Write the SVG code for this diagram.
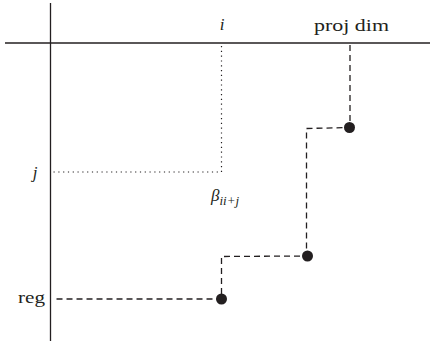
<svg xmlns="http://www.w3.org/2000/svg" width="430" height="345" viewBox="0 0 430 345">
<style>
.ax{stroke:#231f20;stroke-width:1.3;fill:none}
.dot{stroke:#231f20;stroke-width:1.2;fill:none;stroke-dasharray:1.2 3.6}
.dash{stroke:#231f20;stroke-width:1.3;fill:none;stroke-dasharray:6 4}
.pt{fill:#231f20}
text{font-family:"Liberation Serif","Times New Roman",serif;fill:#231f20;font-size:17px}
.it{font-style:italic}
</style>
<g id="axes">
<line class="ax" x1="50.5" y1="3" x2="50.5" y2="341"/>
<line class="ax" x1="5" y1="43" x2="430" y2="43"/>
</g>
<g id="connectors">
<polyline class="dot" points="221.5,46 221.5,172 53,172"/>
<polyline class="dash" points="350,45 350,127.5 306.5,128.5 306.5,256 221.5,256.5 221.5,299 53,299"/>
</g>
<g id="p1"><circle class="pt" cx="349.5" cy="127.5" r="5.5"/></g>
<g id="p2"><circle class="pt" cx="307.5" cy="256" r="5.5"/></g>
<g id="p3"><circle class="pt" cx="221.5" cy="299" r="5.5"/></g>
<g id="labels">
<text class="it" x="222" y="30" text-anchor="middle" font-size="18">i</text>
<text x="314" y="31" textLength="75" lengthAdjust="spacingAndGlyphs">proj dim</text>
<text class="it" x="35" y="178" text-anchor="middle" font-size="18">j</text>
<text x="18" y="303" textLength="27" lengthAdjust="spacingAndGlyphs">reg</text>
<text class="it" x="211" y="201" font-size="19">β<tspan font-size="13" dy="4">ii+j</tspan></text>
</g>
</svg>
